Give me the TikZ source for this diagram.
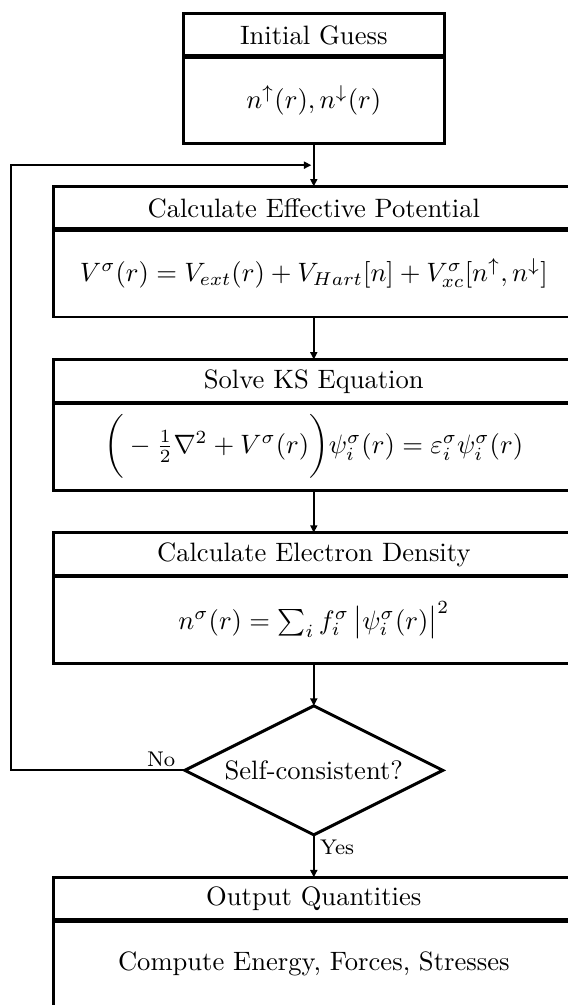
\documentclass[tikz,border=0pt]{standalone}
\usepackage{amsmath,amssymb}
\usepackage{tikz}
\usetikzlibrary{positioning,arrows.meta,calc,shapes.geometric}
\tikzset{
  titlu/.style     = {draw, line width=1.1pt, align=center, inner sep=2pt, outer sep=0pt,
                      minimum height=16.3pt},
  corp/.style      = {titlu, minimum height=32.8pt},
  mic/.style       = {minimum width=98.1pt},
  mare/.style      = {minimum width=195.7pt},
  decizie/.style   = {draw, diamond, line width=1.1pt, inner sep=0pt, outer sep=0pt,
                      aspect=2, minimum width=97pt, minimum height=48.5pt},
  eticheta/.style  = {font=\footnotesize, inner sep=1pt},
  sageata/.style   = {-{Triangle[length=2.8pt,width=2.6pt]}, line width=0.75pt},
  separator/.style = {line width=1.8pt}
}

\begin{document}
\begin{tikzpicture}[x=0.376pt, y=-0.376pt, node distance=16pt]
    \useasboundingbox (0,0) rectangle (568,1005);
    \clip (0,0) rectangle (568,1005);

    \node[titlu, mic, anchor=north] (initT) at (313.8,13.3) {Initial Guess};
    \node[corp, mic, below=0pt of initT] (initC) {$n^{\uparrow}(r), n^{\downarrow}(r)$};

    \node[titlu, mare, below=of initC] (potT) {Calculate Effective Potential};
    \node[corp, mare, below=0pt of potT] (potC)
        {$V^{\sigma}(r) = V_{ext}(r) + V_{Hart}[n] + V^{\sigma}_{xc}[n^{\uparrow}, n^{\downarrow}]$};

    \node[titlu, mare, below=of potC] (ksT) {Solve KS Equation};
    \node[corp, mare, below=0pt of ksT] (ksC)
        {$\bigg( -\frac{1}{2}\nabla^2 + V^{\sigma}(r)\bigg)\psi^{\sigma}_i(r) = \varepsilon^{\sigma}_i\psi^{\sigma}_i(r)$};

    \node[titlu, mare, below=of ksC] (densT) {Calculate Electron Density};
    \node[corp, mare, below=0pt of densT] (densC)
        {$n^{\sigma}(r) = \sum_i f^{\sigma}_i \,\big|\psi^{\sigma}_i(r)\big|^2$};

    \node[decizie, below=of densC] (test) {Self-consistent?};

    \node[titlu, mare, below=of test] (iesT) {Output Quantities};
    \node[corp, mare, below=0pt of iesT] (iesC) {Compute Energy, Forces, Stresses};

    % linii groase sub titluri
    \foreach \t in {initT,potT,ksT,densT,iesT}
        \draw[separator] (\t.south west) -- (\t.south east);

    \coordinate (nod) at ($(initC.south)!0.5!(potT.north)$);
    \coordinate (stanga) at (10.9,0 |- nod);

    \draw[sageata] (initC) -- (potT);
    \draw[sageata] (potC) -- (ksT);
    \draw[sageata] (ksC) -- (densT);
    \draw[sageata] (densC) -- (test);
    \draw[sageata] (test) -- node[eticheta, pos=0, anchor=north west, xshift=1pt, yshift=-0.5pt] {Yes} (iesT);
    \draw[sageata, shorten >=0.9pt] (test.west) -| (stanga) -- (nod);
    \node[eticheta, above left=0pt and 2.4pt of test.west] (nu) {No};
\end{tikzpicture}
\end{document}
